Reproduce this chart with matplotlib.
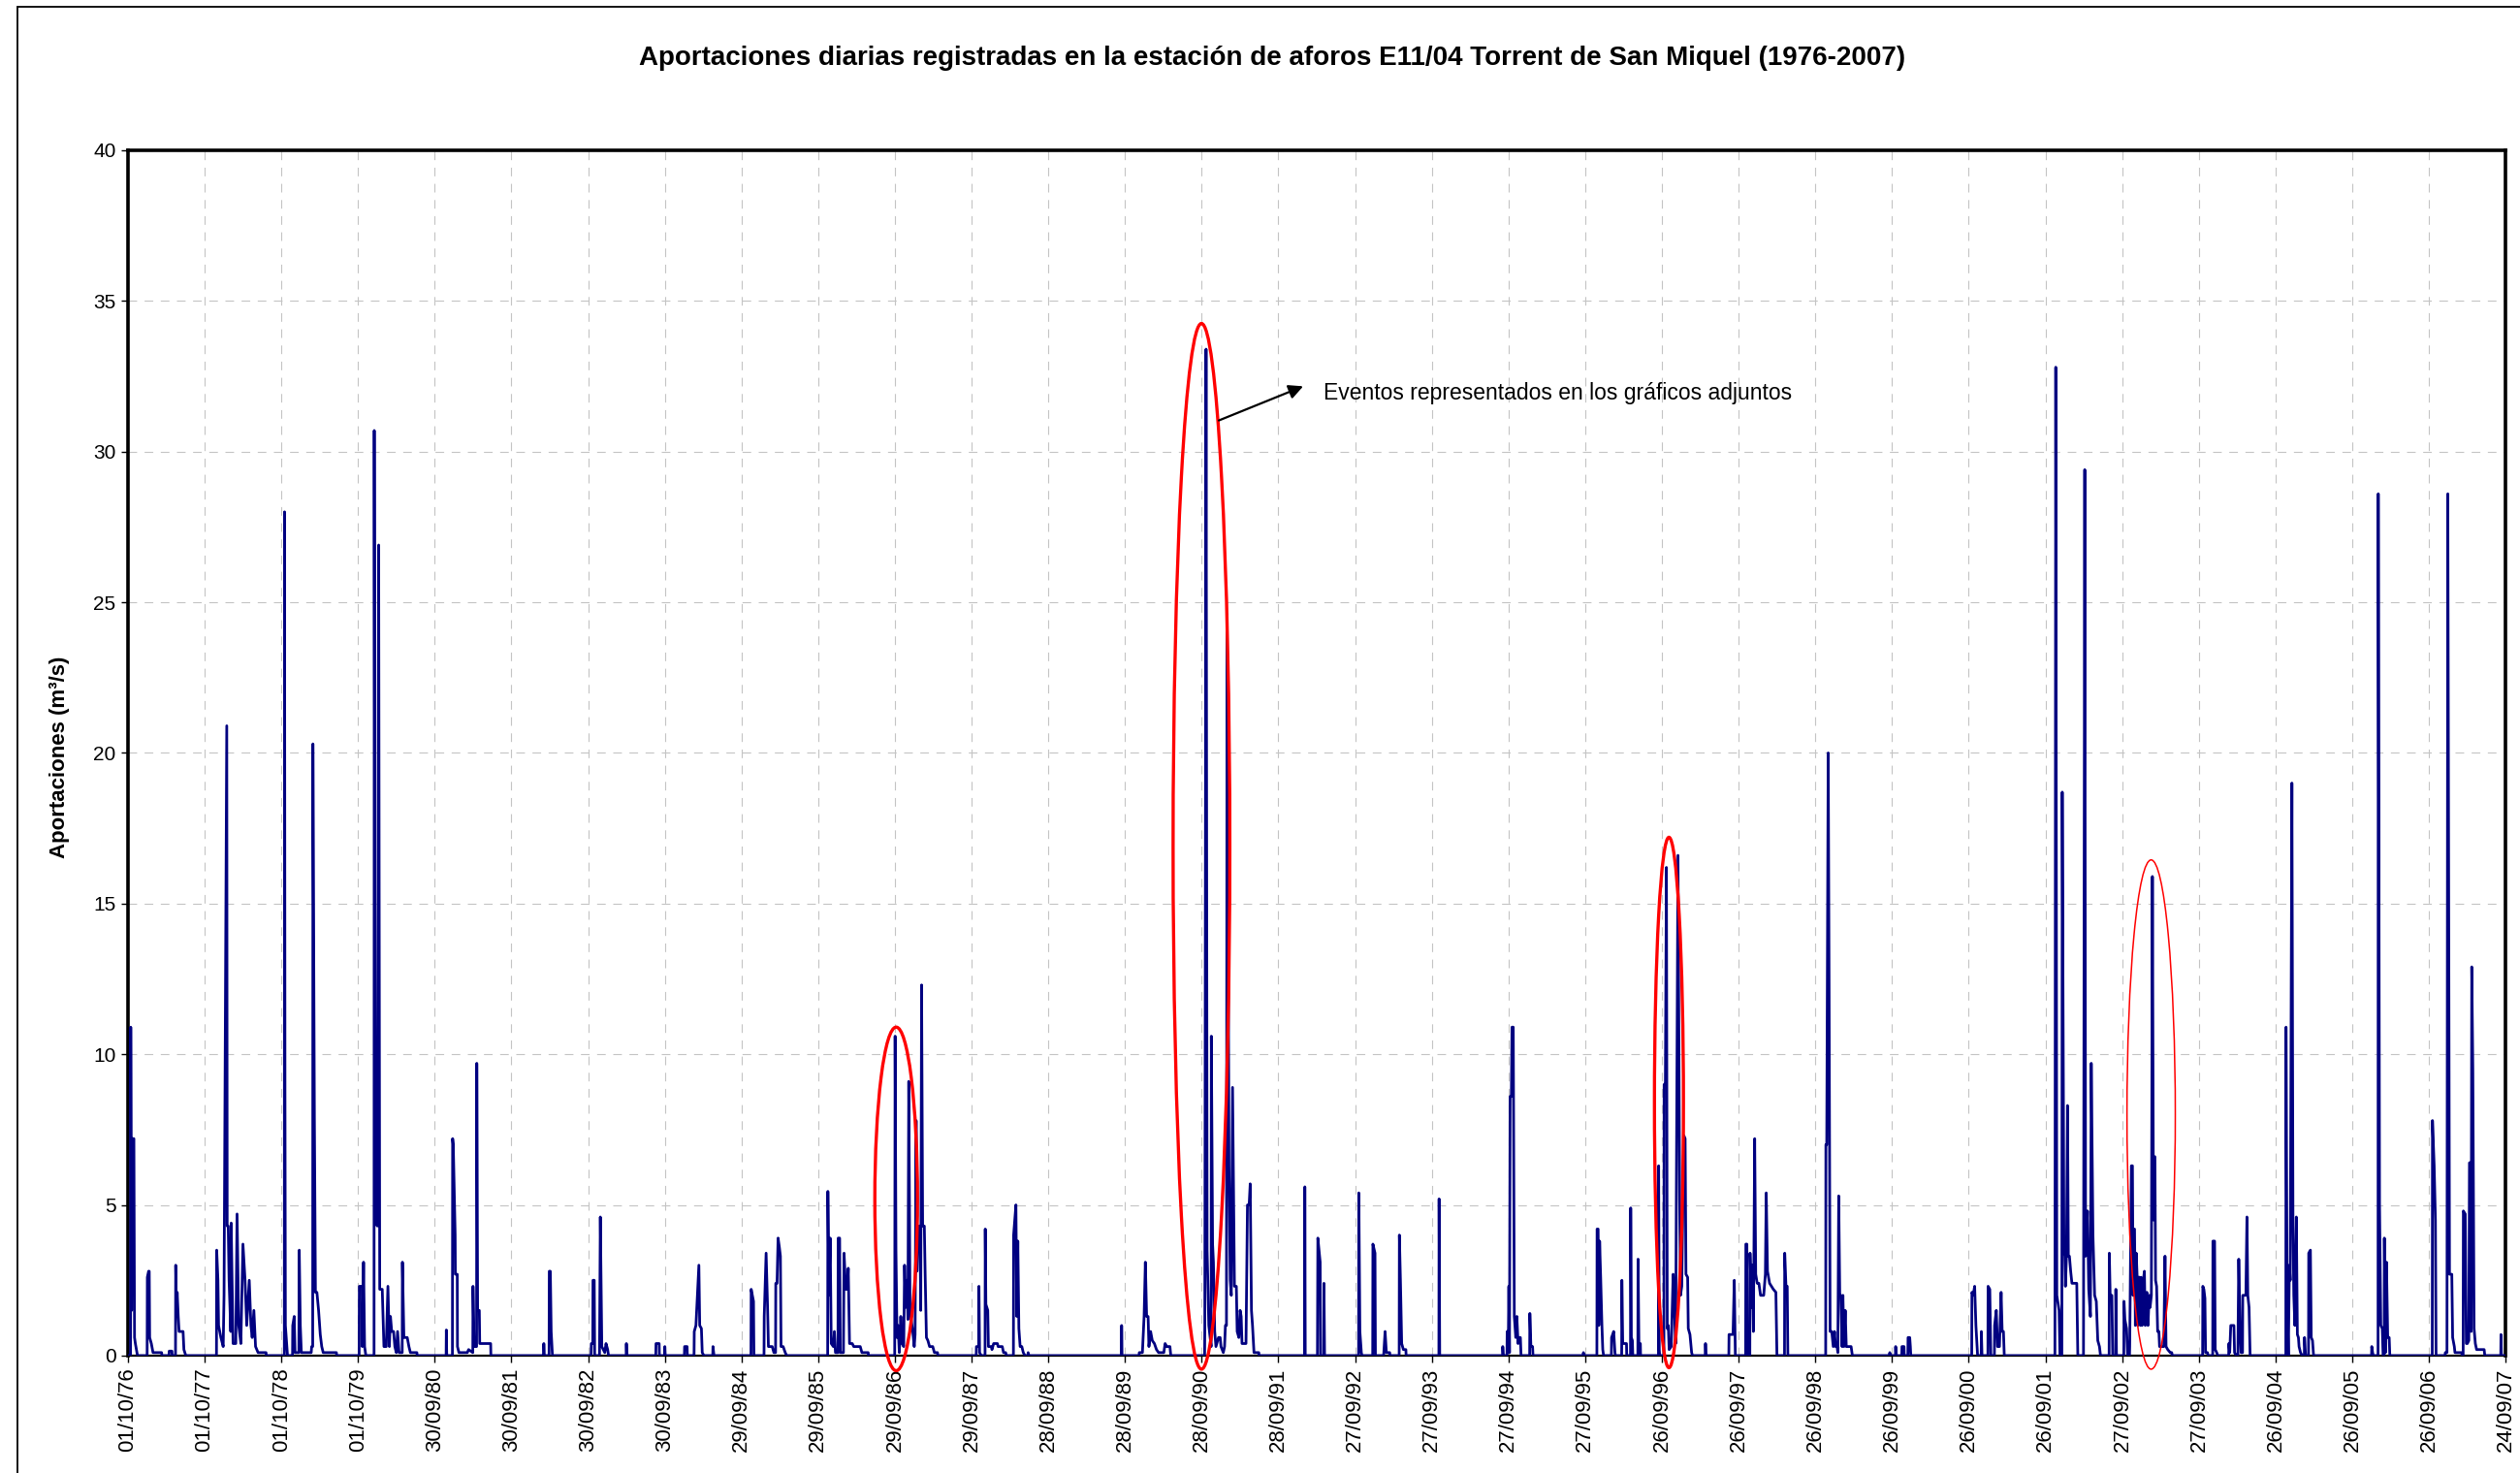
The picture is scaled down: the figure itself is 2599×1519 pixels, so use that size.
import pandas as pd
import matplotlib
matplotlib.use("Agg")
import matplotlib.pyplot as plt
import matplotlib.dates as mdates
from matplotlib.patches import Ellipse, Rectangle

plt.rcParams["font.family"] = ["Liberation Sans", "DejaVu Sans"]

# Daily flow (m3/s): (date, value) vertices of the line
flow_points = [
    # 1976-77
    ("1976-10-01", 0), ("1976-10-13", 0), ("1976-10-14", 10.9), ("1976-10-18", 1.5),
    ("1976-10-21", 7.2), ("1976-10-29", 7.2), ("1976-11-01", 0.6), ("1976-11-05", 0.4),
    ("1976-11-10", 0.2), ("1976-11-15", 0),
    ("1976-12-31", 0), ("1977-01-01", 2.6), ("1977-01-07", 2.8), ("1977-01-10", 2.8),
    ("1977-01-12", 0.6), ("1977-01-20", 0.4), ("1977-01-28", 0.1), ("1977-03-10", 0.1),
    ("1977-03-11", 0),
    ("1977-04-14", 0), ("1977-04-15", 0.15), ("1977-04-28", 0.15), ("1977-04-29", 0),
    ("1977-05-15", 0), ("1977-05-16", 3.0), ("1977-05-20", 1.3), ("1977-05-23", 2.1),
    ("1977-05-28", 1.3), ("1977-06-01", 0.8), ("1977-06-20", 0.8), ("1977-06-24", 0.2),
    ("1977-07-03", 0),
    # 1977-78
    ("1977-11-26", 0), ("1977-11-27", 3.5), ("1977-12-03", 2.5), ("1977-12-06", 1.0),
    ("1977-12-17", 0.6), ("1977-12-28", 0.3), ("1978-01-01", 2.0), ("1978-01-14", 20.9),
    ("1978-01-16", 4.3), ("1978-01-21", 4.3), ("1978-01-25", 2.5), ("1978-02-02", 0.8),
    ("1978-02-04", 4.4), ("1978-02-13", 0.4), ("1978-02-26", 0.4), ("1978-03-04", 4.7),
    ("1978-03-12", 1.0), ("1978-03-22", 0.4), ("1978-04-01", 3.7), ("1978-04-11", 2.5),
    ("1978-04-19", 1.0), ("1978-05-01", 2.5), ("1978-05-09", 1.0), ("1978-05-15", 0.6),
    ("1978-05-23", 1.5), ("1978-05-31", 0.3), ("1978-06-12", 0.1), ("1978-07-20", 0.1),
    ("1978-07-21", 0),
    # 1978-79
    ("1978-10-15", 0), ("1978-10-16", 28.0), ("1978-10-18", 8.8), ("1978-10-20", 1.0),
    ("1978-10-25", 0.5), ("1978-10-30", 0),
    ("1978-11-23", 0), ("1978-11-24", 1.0), ("1978-12-01", 1.3), ("1978-12-05", 0.1),
    ("1978-12-23", 0.1), ("1978-12-25", 3.5), ("1978-12-30", 1.0), ("1979-01-04", 0.1),
    ("1979-02-20", 0.1), ("1979-02-22", 0.3), ("1979-02-27", 0.3), ("1979-02-28", 20.3),
    ("1979-03-07", 7.9), ("1979-03-12", 2.1), ("1979-03-19", 2.1), ("1979-03-27", 1.5),
    ("1979-04-04", 0.7), ("1979-04-11", 0.3), ("1979-04-18", 0.1), ("1979-06-20", 0.1),
    ("1979-06-21", 0),
    # 1979-80
    ("1979-10-06", 0), ("1979-10-07", 2.3), ("1979-10-20", 2.3), ("1979-10-21", 0.3),
    ("1979-10-27", 3.1), ("1979-11-01", 0.3), ("1979-11-07", 0),
    ("1979-12-16", 0), ("1979-12-17", 30.7), ("1979-12-22", 4.4), ("1980-01-01", 4.3),
    ("1980-01-07", 26.9), ("1980-01-12", 2.2), ("1980-01-24", 2.2), ("1980-02-01", 0.3),
    ("1980-02-12", 0.3), ("1980-02-20", 2.3), ("1980-02-27", 0.3), ("1980-03-03", 1.3),
    ("1980-03-09", 0.8), ("1980-03-18", 0.8), ("1980-03-24", 0.3), ("1980-03-31", 0.1),
    ("1980-04-06", 0.8), ("1980-04-13", 0.1), ("1980-04-28", 0.1), ("1980-04-29", 3.1),
    ("1980-05-06", 0.6), ("1980-05-22", 0.6), ("1980-05-30", 0.3), ("1980-06-06", 0.1),
    ("1980-07-07", 0.1), ("1980-07-08", 0),
    # 1980-81
    ("1980-11-23", 0), ("1980-11-24", 0.85), ("1980-11-26", 0),
    ("1980-12-23", 0), ("1980-12-24", 7.2), ("1980-12-27", 7.0), ("1981-01-05", 4.0),
    ("1981-01-06", 2.7), ("1981-01-15", 2.7), ("1981-01-16", 0.3), ("1981-01-23", 0.1),
    ("1981-03-04", 0.1), ("1981-03-10", 0.2), ("1981-03-30", 0.1), ("1981-03-31", 2.3),
    ("1981-04-05", 0.3), ("1981-04-17", 0.3), ("1981-04-18", 9.7), ("1981-04-22", 1.5),
    ("1981-04-30", 1.5), ("1981-05-02", 0.4), ("1981-06-23", 0.4), ("1981-06-24", 0),
    # 1981-82
    ("1982-03-02", 0), ("1982-03-03", 0.4), ("1982-03-05", 0),
    ("1982-03-28", 0), ("1982-03-29", 2.8), ("1982-04-03", 2.8), ("1982-04-07", 0.8),
    ("1982-04-13", 0),
    # 1982-83
    ("1982-10-14", 0), ("1982-10-15", 0.4), ("1982-10-22", 0.4), ("1982-10-23", 2.5),
    ("1982-10-29", 2.5), ("1982-10-31", 0),
    ("1982-11-23", 0), ("1982-11-27", 4.6), ("1982-12-04", 0.3), ("1982-12-18", 0.1),
    ("1982-12-24", 0.4), ("1983-01-01", 0.2), ("1983-01-05", 0),
    ("1983-03-30", 0), ("1983-03-31", 0.4), ("1983-04-02", 0),
    ("1983-08-18", 0), ("1983-08-19", 0.4), ("1983-09-03", 0.4), ("1983-09-04", 0),
    # 1983-84
    ("1983-09-29", 0), ("1983-09-30", 0.3), ("1983-10-02", 0),
    ("1984-01-01", 0), ("1984-01-02", 0.3), ("1984-01-14", 0.3), ("1984-01-15", 0),
    ("1984-02-16", 0), ("1984-02-17", 0.8), ("1984-02-25", 1.0), ("1984-03-10", 3.0),
    ("1984-03-14", 1.0), ("1984-03-22", 0.9), ("1984-03-26", 0.1), ("1984-04-03", 0),
    ("1984-05-15", 0), ("1984-05-16", 0.3), ("1984-05-21", 0),
    # 1984-85
    ("1984-11-13", 0), ("1984-11-14", 2.2), ("1984-11-25", 1.8), ("1984-11-27", 0),
    ("1985-01-14", 0), ("1985-01-15", 1.3), ("1985-01-24", 3.4), ("1985-01-31", 1.6),
    ("1985-02-04", 0.3), ("1985-02-22", 0.3), ("1985-03-02", 0.1), ("1985-03-10", 0.1),
    ("1985-03-11", 2.4), ("1985-03-17", 2.4), ("1985-03-22", 3.9), ("1985-03-28", 3.6),
    ("1985-04-02", 3.3), ("1985-04-05", 0.3), ("1985-04-15", 0.3), ("1985-04-25", 0.1),
    ("1985-05-02", 0),
    # 1985-86
    ("1985-11-13", 0), ("1985-11-14", 5.45), ("1985-11-19", 2.0), ("1985-11-25", 3.9),
    ("1985-11-30", 0.4), ("1985-12-10", 0.3), ("1985-12-15", 0.8), ("1985-12-20", 0.1),
    ("1986-01-01", 0.1), ("1986-01-02", 3.9), ("1986-01-09", 3.9), ("1986-01-12", 0.1),
    ("1986-01-27", 0.1), ("1986-01-30", 3.4), ("1986-02-07", 2.2), ("1986-02-15", 2.2),
    ("1986-02-19", 2.9), ("1986-02-25", 0.4), ("1986-03-10", 0.4), ("1986-03-17", 0.3),
    ("1986-04-17", 0.3), ("1986-04-25", 0.1), ("1986-05-25", 0.1), ("1986-05-26", 0),
    # 1986-87
    ("1986-09-28", 0), ("1986-09-30", 10.6), ("1986-10-04", 3.5), ("1986-10-09", 0.6),
    ("1986-10-14", 1.0), ("1986-10-20", 0.1), ("1986-10-27", 1.3), ("1986-11-02", 0.4),
    ("1986-11-10", 0.3), ("1986-11-14", 3.0), ("1986-11-19", 1.6), ("1986-11-25", 2.5),
    ("1986-11-30", 1.2), ("1986-12-04", 9.1), ("1986-12-10", 1.5), ("1986-12-23", 0.8),
    ("1986-12-30", 0.3), ("1987-01-03", 0.7), ("1987-01-08", 7.8), ("1987-01-12", 2.8),
    ("1987-01-18", 4.3), ("1987-01-26", 4.3), ("1987-01-30", 1.5), ("1987-02-03", 12.3),
    ("1987-02-08", 4.3), ("1987-02-16", 4.3), ("1987-02-20", 2.7), ("1987-02-26", 0.6),
    ("1987-03-05", 0.5), ("1987-03-13", 0.3), ("1987-03-28", 0.3), ("1987-04-05", 0.1),
    ("1987-04-20", 0.1), ("1987-04-21", 0),
    # 1987-88
    ("1987-10-21", 0), ("1987-10-22", 0.3), ("1987-11-02", 0.3), ("1987-11-03", 2.3),
    ("1987-11-06", 0.1), ("1987-11-14", 0),
    ("1987-12-02", 0), ("1987-12-03", 4.2), ("1987-12-06", 1.7), ("1987-12-15", 1.5),
    ("1987-12-18", 0.3), ("1988-01-01", 0.3), ("1988-01-04", 0.2), ("1988-01-12", 0.4),
    ("1988-01-30", 0.4), ("1988-02-02", 0.3), ("1988-02-22", 0.3), ("1988-02-28", 0.1),
    ("1988-03-09", 0.1), ("1988-03-13", 0),
    ("1988-04-15", 0), ("1988-04-16", 4.0), ("1988-04-27", 5.0), ("1988-05-01", 1.3),
    ("1988-05-06", 3.8), ("1988-05-11", 0.9), ("1988-05-17", 0.3), ("1988-05-25", 0.3),
    ("1988-06-01", 0.1), ("1988-06-09", 0), ("1988-06-23", 0), ("1988-06-24", 0.1),
    ("1988-06-28", 0),
    # 1988-89
    ("1989-09-11", 0), ("1989-09-12", 1.0), ("1989-09-14", 0),
    # 1989-90
    ("1989-12-04", 0), ("1989-12-05", 0.1), ("1989-12-20", 0.1), ("1989-12-28", 1.3),
    ("1990-01-03", 3.1), ("1990-01-09", 1.3), ("1990-01-16", 1.3), ("1990-01-20", 0.3),
    ("1990-01-28", 0.8), ("1990-02-05", 0.5), ("1990-02-15", 0.4), ("1990-02-25", 0.2),
    ("1990-03-07", 0.1), ("1990-04-01", 0.1), ("1990-04-07", 0.4), ("1990-04-15", 0.3),
    ("1990-04-30", 0.3), ("1990-05-04", 0),
    # 1990-91
    ("1990-10-12", 0), ("1990-10-13", 1.0), ("1990-10-19", 33.4), ("1990-10-24", 3.5),
    ("1990-11-01", 1.0), ("1990-11-12", 0.3), ("1990-11-13", 10.6), ("1990-11-19", 3.7),
    ("1990-11-23", 3.1), ("1990-11-29", 0.8), ("1990-12-05", 0.3), ("1990-12-17", 0.6),
    ("1990-12-25", 0.6), ("1990-12-29", 0.3), ("1991-01-09", 0.1), ("1991-01-15", 0.3),
    ("1991-01-19", 1.0), ("1991-01-24", 1.0), ("1991-01-27", 24.6), ("1991-02-05", 6.3),
    ("1991-02-11", 2.5), ("1991-02-16", 2.0), ("1991-02-22", 8.9), ("1991-03-03", 2.3),
    ("1991-03-12", 2.3), ("1991-03-16", 0.8), ("1991-03-24", 0.6), ("1991-03-30", 1.5),
    ("1991-04-04", 1.3), ("1991-04-08", 0.4), ("1991-04-27", 0.4), ("1991-05-04", 5.0),
    ("1991-05-12", 5.0), ("1991-05-17", 5.7), ("1991-05-23", 1.5), ("1991-05-28", 1.0),
    ("1991-06-04", 0.1), ("1991-06-27", 0.1), ("1991-06-28", 0),
    # 1991-92
    ("1992-01-31", 0), ("1992-02-01", 5.6), ("1992-02-03", 0),
    ("1992-04-01", 0), ("1992-04-03", 3.9), ("1992-04-14", 3.1), ("1992-04-16", 0),
    ("1992-05-01", 0), ("1992-05-02", 2.4), ("1992-05-05", 0),
    # 1992-93
    ("1992-10-14", 0), ("1992-10-15", 5.4), ("1992-10-20", 0.8), ("1992-10-27", 0.1),
    ("1992-10-30", 0),
    ("1992-12-20", 0), ("1992-12-21", 3.7), ("1992-12-31", 3.4), ("1993-01-02", 0),
    ("1993-02-10", 0), ("1993-02-11", 0.1), ("1993-02-17", 0.8), ("1993-02-23", 0.1),
    ("1993-03-11", 0.1), ("1993-03-12", 0),
    ("1993-04-25", 0), ("1993-04-26", 4.0), ("1993-05-01", 2.5), ("1993-05-07", 0.4),
    ("1993-05-15", 0.2), ("1993-05-27", 0.2), ("1993-05-28", 0),
    # 1993-94
    ("1993-10-31", 0), ("1993-11-01", 5.2), ("1993-11-04", 0),
    # 1994-95
    ("1994-08-30", 0), ("1994-08-31", 0.3), ("1994-09-03", 0), ("1994-09-20", 0),
    ("1994-09-21", 0.8), ("1994-09-26", 0.1), ("1994-09-29", 2.3), ("1994-10-02", 0.1),
    ("1994-10-05", 8.6), ("1994-10-11", 8.6), ("1994-10-14", 10.9), ("1994-10-20", 10.9),
    ("1994-10-25", 1.3), ("1994-11-01", 0.6), ("1994-11-06", 1.3), ("1994-11-12", 0.4),
    ("1994-11-17", 0.6), ("1994-11-23", 0.6), ("1994-11-26", 0),
    ("1995-01-06", 0), ("1995-01-07", 1.4), ("1995-01-12", 0.3), ("1995-01-20", 0.3),
    ("1995-01-22", 0),
    # 1995-96
    ("1995-09-18", 0), ("1995-09-19", 0.1), ("1995-09-21", 0),
    ("1995-11-22", 0), ("1995-11-23", 4.2), ("1995-11-28", 4.2), ("1995-12-01", 1.0),
    ("1995-12-05", 3.8), ("1995-12-10", 2.6), ("1995-12-16", 1.0), ("1995-12-20", 0.2),
    ("1995-12-24", 0),
    ("1996-01-30", 0), ("1996-01-31", 0.6), ("1996-02-10", 0.8), ("1996-02-16", 0.1),
    ("1996-02-18", 0),
    ("1996-03-19", 0), ("1996-03-20", 2.5), ("1996-03-24", 0.4), ("1996-04-11", 0.4),
    ("1996-04-12", 0),
    ("1996-04-30", 0), ("1996-05-01", 4.9), ("1996-05-04", 0.6), ("1996-05-09", 0.5),
    ("1996-05-11", 0),
    ("1996-06-04", 0), ("1996-06-05", 3.2), ("1996-06-09", 0.4), ("1996-06-16", 0.4),
    ("1996-06-17", 0),
    # 1996-97
    ("1996-09-10", 0), ("1996-09-11", 6.3), ("1996-09-14", 0.2), ("1996-09-16", 0),
    ("1996-10-06", 0), ("1996-10-07", 9.0), ("1996-10-13", 9.0), ("1996-10-18", 16.2),
    ("1996-10-22", 0.9), ("1996-10-27", 1.0), ("1996-10-31", 0.2), ("1996-11-10", 0.3),
    ("1996-11-19", 2.7), ("1996-11-23", 2.0), ("1996-12-01", 0.4), ("1996-12-12", 16.6),
    ("1996-12-20", 5.2), ("1996-12-24", 2.0), ("1996-12-30", 2.3), ("1997-01-09", 7.3),
    ("1997-01-15", 7.2), ("1997-01-19", 2.7), ("1997-01-27", 2.6), ("1997-01-30", 0.9),
    ("1997-02-07", 0.7), ("1997-02-15", 0.1), ("1997-02-19", 0),
    ("1997-04-21", 0), ("1997-04-22", 0.4), ("1997-04-24", 0),
    ("1997-08-11", 0), ("1997-08-12", 0.7), ("1997-08-31", 0.7), ("1997-09-06", 2.5),
    ("1997-09-11", 0),
    # 1997-98
    ("1997-10-30", 0), ("1997-10-31", 3.7), ("1997-11-05", 3.7), ("1997-11-07", 0),
    ("1997-11-19", 0), ("1997-11-20", 3.4), ("1997-11-27", 1.6), ("1997-12-01", 3.0),
    ("1997-12-06", 0.8), ("1997-12-12", 7.2), ("1997-12-17", 2.7), ("1997-12-24", 2.4),
    ("1998-01-01", 2.4), ("1998-01-09", 2.0), ("1998-01-24", 2.0), ("1998-02-01", 2.7),
    ("1998-02-05", 5.4), ("1998-02-11", 2.8), ("1998-02-21", 2.4), ("1998-03-11", 2.2),
    ("1998-03-23", 2.1), ("1998-03-28", 0),
    ("1998-05-03", 0), ("1998-05-04", 3.4), ("1998-05-10", 2.3), ("1998-05-16", 2.3),
    ("1998-05-19", 0),
    # 1998-99
    ("1998-11-15", 0), ("1998-11-16", 7.0), ("1998-11-20", 7.0), ("1998-11-27", 20.0),
    ("1998-12-01", 12.6), ("1998-12-06", 0.8), ("1998-12-14", 0.8), ("1998-12-21", 0.3),
    ("1998-12-27", 0.8), ("1999-01-01", 0.3), ("1999-01-06", 0.4), ("1999-01-12", 0.1),
    ("1999-01-16", 5.3), ("1999-01-21", 2.0), ("1999-01-26", 2.0), ("1999-02-01", 0.3),
    ("1999-02-05", 2.0), ("1999-02-10", 0.3), ("1999-02-16", 1.5), ("1999-02-21", 0.3),
    ("1999-03-16", 0.3), ("1999-03-22", 0),
    # 1999-00
    ("1999-09-15", 0), ("1999-09-16", 0.1), ("1999-09-18", 0),
    ("1999-10-13", 0), ("1999-10-14", 0.3), ("1999-10-16", 0),
    ("1999-11-12", 0), ("1999-11-13", 0.3), ("1999-11-23", 0.3), ("1999-11-24", 0),
    ("1999-12-11", 0), ("1999-12-12", 0.6), ("1999-12-20", 0.6), ("1999-12-23", 0.3),
    ("1999-12-25", 0),
    # 2000-01
    ("2000-10-10", 0), ("2000-10-11", 2.1), ("2000-10-17", 2.0), ("2000-10-24", 2.3),
    ("2000-10-30", 1.0), ("2000-11-07", 0),
    ("2000-11-24", 0), ("2000-11-25", 0.8), ("2000-11-28", 0),
    ("2000-12-26", 0), ("2000-12-27", 2.3), ("2001-01-04", 2.2), ("2001-01-09", 0),
    ("2001-01-26", 0), ("2001-01-27", 1.0), ("2001-02-04", 1.5), ("2001-02-10", 0.3),
    ("2001-02-19", 0.3), ("2001-02-27", 2.1), ("2001-03-04", 0.8), ("2001-03-10", 0.8),
    ("2001-03-14", 0),
    # 2001-02
    ("2001-11-10", 0), ("2001-11-11", 6.3), ("2001-11-14", 32.8), ("2001-11-19", 2.0),
    ("2001-11-30", 1.5), ("2001-12-04", 0), ("2001-12-13", 0), ("2001-12-15", 18.7),
    ("2001-12-23", 3.5), ("2001-12-27", 3.3), ("2001-12-30", 2.3), ("2002-01-04", 3.3),
    ("2002-01-09", 8.3), ("2002-01-13", 3.3), ("2002-01-18", 3.3), ("2002-01-24", 2.8),
    ("2002-01-30", 2.4), ("2002-02-22", 2.4), ("2002-02-27", 0),
    ("2002-03-26", 0), ("2002-04-01", 29.4), ("2002-04-05", 3.3), ("2002-04-14", 4.8),
    ("2002-04-20", 2.2), ("2002-04-28", 1.3), ("2002-05-02", 9.7), ("2002-05-10", 4.0),
    ("2002-05-18", 2.0), ("2002-05-26", 1.8), ("2002-06-02", 0.5), ("2002-06-10", 0.3),
    ("2002-06-15", 0),
    ("2002-07-26", 0), ("2002-07-27", 3.4), ("2002-07-31", 2.0), ("2002-08-08", 2.0),
    ("2002-08-12", 0), ("2002-08-26", 0), ("2002-08-27", 2.2), ("2002-08-30", 0),
    # 2002-03
    ("2002-10-04", 0), ("2002-10-05", 1.8), ("2002-10-09", 1.2), ("2002-10-17", 0.9),
    ("2002-10-22", 0), ("2002-10-31", 0), ("2002-11-01", 0.3), ("2002-11-09", 6.3),
    ("2002-11-14", 6.3), ("2002-11-17", 2.0), ("2002-11-20", 4.2), ("2002-11-24", 4.2),
    ("2002-11-28", 1.0), ("2002-12-02", 3.4), ("2002-12-06", 2.7), ("2002-12-10", 1.0),
    ("2002-12-13", 2.6), ("2002-12-18", 2.6), ("2002-12-22", 1.0), ("2002-12-25", 2.6),
    ("2002-12-30", 1.0), ("2003-01-03", 2.4), ("2003-01-10", 2.8), ("2003-01-14", 1.0),
    ("2003-01-17", 2.0), ("2003-01-22", 2.1), ("2003-01-27", 1.0), ("2003-02-02", 2.0),
    ("2003-02-06", 1.6), ("2003-02-12", 2.0), ("2003-02-17", 15.9), ("2003-02-22", 4.5),
    ("2003-02-25", 6.6), ("2003-03-01", 6.6), ("2003-03-04", 2.5), ("2003-03-09", 2.3),
    ("2003-03-14", 0.8), ("2003-03-20", 0.8), ("2003-03-23", 0.3), ("2003-04-12", 0.3),
    ("2003-04-18", 3.3), ("2003-04-23", 0.3), ("2003-05-01", 0.2), ("2003-05-13", 0.1),
    ("2003-05-20", 0.1), ("2003-05-23", 0),
    # 2003-04
    ("2003-10-14", 0), ("2003-10-15", 2.3), ("2003-10-20", 2.2), ("2003-10-25", 1.9),
    ("2003-10-28", 0.1), ("2003-11-06", 0.1), ("2003-11-09", 0),
    ("2003-12-01", 0), ("2003-12-02", 3.8), ("2003-12-10", 3.8), ("2003-12-13", 0.2),
    ("2003-12-20", 0.1), ("2003-12-25", 0),
    ("2004-02-15", 0), ("2004-02-16", 0.4), ("2004-02-20", 0.1), ("2004-02-25", 1.0),
    ("2004-03-11", 1.0), ("2004-03-14", 0.1), ("2004-03-22", 0), ("2004-03-30", 0),
    ("2004-03-31", 1.0), ("2004-04-03", 3.2), ("2004-04-09", 1.0), ("2004-04-14", 0.1),
    ("2004-04-21", 0.1), ("2004-04-22", 2.0), ("2004-05-07", 2.0), ("2004-05-12", 4.6),
    ("2004-05-16", 2.0), ("2004-05-22", 1.6), ("2004-05-27", 0),
    # 2004-05
    ("2004-11-13", 0), ("2004-11-14", 10.9), ("2004-11-19", 2.0), ("2004-11-25", 0),
    ("2004-11-30", 3.0), ("2004-12-04", 2.5), ("2004-12-12", 19.0), ("2004-12-17", 4.5),
    ("2004-12-21", 2.0), ("2004-12-26", 1.0), ("2005-01-02", 4.6), ("2005-01-07", 0.7),
    ("2005-01-12", 0.6), ("2005-01-15", 0.3), ("2005-01-22", 0.1), ("2005-01-30", 0),
    ("2005-02-09", 0), ("2005-02-10", 0.6), ("2005-02-15", 0),
    ("2005-03-01", 0), ("2005-03-02", 3.4), ("2005-03-10", 3.5), ("2005-03-14", 0.6),
    ("2005-03-20", 0.5), ("2005-03-25", 0),
    # 2005-06
    ("2005-12-26", 0), ("2005-12-27", 0.3), ("2005-12-31", 0.1), ("2006-01-03", 0),
    ("2006-01-26", 0), ("2006-01-27", 28.6), ("2006-02-02", 5.0), ("2006-02-08", 1.0),
    ("2006-02-15", 0.9), ("2006-02-19", 0), ("2006-02-24", 0), ("2006-02-25", 3.9),
    ("2006-03-02", 0.1), ("2006-03-07", 3.1), ("2006-03-13", 0.6), ("2006-03-20", 0.6),
    ("2006-03-23", 0),
    # 2006-07
    ("2006-10-11", 0), ("2006-10-12", 7.8), ("2006-10-20", 6.3), ("2006-10-26", 4.5),
    ("2006-10-29", 0),
    ("2006-12-11", 0), ("2006-12-12", 0.1), ("2006-12-20", 0.1), ("2006-12-24", 28.6),
    ("2007-01-01", 2.7), ("2007-01-12", 2.7), ("2007-01-16", 0.6), ("2007-01-24", 0.3),
    ("2007-01-27", 0.1), ("2007-02-27", 0.1), ("2007-03-03", 0), ("2007-03-07", 0),
    ("2007-03-08", 4.8), ("2007-03-17", 4.7), ("2007-03-22", 0.4), ("2007-03-27", 0.4),
    ("2007-04-03", 0.5), ("2007-04-06", 6.4), ("2007-04-11", 6.4), ("2007-04-14", 0.8),
    ("2007-04-17", 12.9), ("2007-04-22", 9.5), ("2007-04-28", 0.9), ("2007-05-04", 0.4),
    ("2007-05-10", 0.2), ("2007-06-15", 0.2), ("2007-06-18", 0),
    ("2007-09-02", 0), ("2007-09-03", 0.7), ("2007-09-05", 0), ("2007-09-24", 0),
]

# Dates written under the x axis
tick_labels = [
    "01/10/76", "01/10/77", "01/10/78", "01/10/79", "30/09/80", "30/09/81",
    "30/09/82", "30/09/83", "29/09/84", "29/09/85", "29/09/86", "29/09/87",
    "28/09/88", "28/09/89", "28/09/90", "28/09/91", "27/09/92", "27/09/93",
    "27/09/94", "27/09/95", "26/09/96", "26/09/97", "26/09/98", "26/09/99",
    "26/09/00", "26/09/01", "27/09/02", "27/09/03", "26/09/04", "26/09/05",
    "26/09/06", "24/09/07",
]

# Highlighted events: (centre date, centre value, width in days, height in m3/s, line width)
event_marks = [
    ("1986-10-05", 5.2, 203, 11.4, 2.4),
    ("1990-09-27", 16.9, 270, 34.7, 2.4),
    ("1996-10-30", 8.4, 138, 17.6, 2.4),
    ("2003-02-11", 8.0, 230, 16.9, 1.1),
]

title = "Aportaciones diarias registradas en la estación de aforos E11/04 Torrent de San Miquel (1976-2007)"
ylabel = "Aportaciones (m³/s)"
note = "Eventos representados en los gráficos adjuntos"

tick_dates = pd.to_datetime(tick_labels, format="%d/%m/%y")

flow = pd.DataFrame(flow_points, columns=["date", "q"])
flow["date"] = pd.to_datetime(flow["date"])

fig = plt.figure(figsize=(25.99, 15.19), dpi=100)
ax = fig.add_axes([0.0508, 0.0797, 0.9434, 0.8183])

ax.plot(flow["date"], flow["q"], color="#000080", lw=2.0, zorder=3)

ax.set_xlim(tick_dates[0], tick_dates[-1])
ax.set_ylim(0, 40)
ax.set_yticks(range(0, 41, 5))
ax.set_xticks(tick_dates)
ax.set_xticklabels(tick_labels)
ax.tick_params(axis="x", labelrotation=90, labelsize=16, length=5, width=1, pad=4)
ax.tick_params(axis="y", labelsize=15, length=5, width=1, pad=4)

ax.set_axisbelow(True)
ax.grid(True, color="#c4c4c4", lw=0.8, linestyle=(0, (8, 7)))
for side in ax.spines.values():
    side.set_linewidth(2.6)
ax.spines["bottom"].set_linewidth(1.6)

# red ellipses round the selected floods
for day, val, w, h, lw in event_marks:
    e = Ellipse((mdates.date2num(pd.Timestamp(day)), val), w, h,
                fill=False, edgecolor="#ff0000", lw=lw, clip_on=False, zorder=4)
    ax.add_patch(e)

ax.annotate("", xy=(pd.Timestamp("1992-02-05"), 32.2),
            xytext=(pd.Timestamp("1990-12-07"), 31.0),
            arrowprops=dict(arrowstyle="-|>", color="black", lw=1.6, mutation_scale=22),
            zorder=5)
ax.text(pd.Timestamp("1992-05-01"), 31.95, note, fontsize=16.5, va="center", ha="left")

fig.text(0.505, 0.9605, title, fontsize=20, fontweight="bold", ha="center", va="center")
fig.text(0.0235, 0.486, ylabel, fontsize=16, fontweight="bold", rotation=90,
         ha="center", va="center")

# outer chart frame
fig.patches.append(Rectangle((18 / 2599, -0.05), 1.2, 1.05 - 7 / 1519,
                             transform=fig.transFigure, fill=False,
                             edgecolor="black", lw=1.3))

fig.savefig("out.png", dpi=100)
